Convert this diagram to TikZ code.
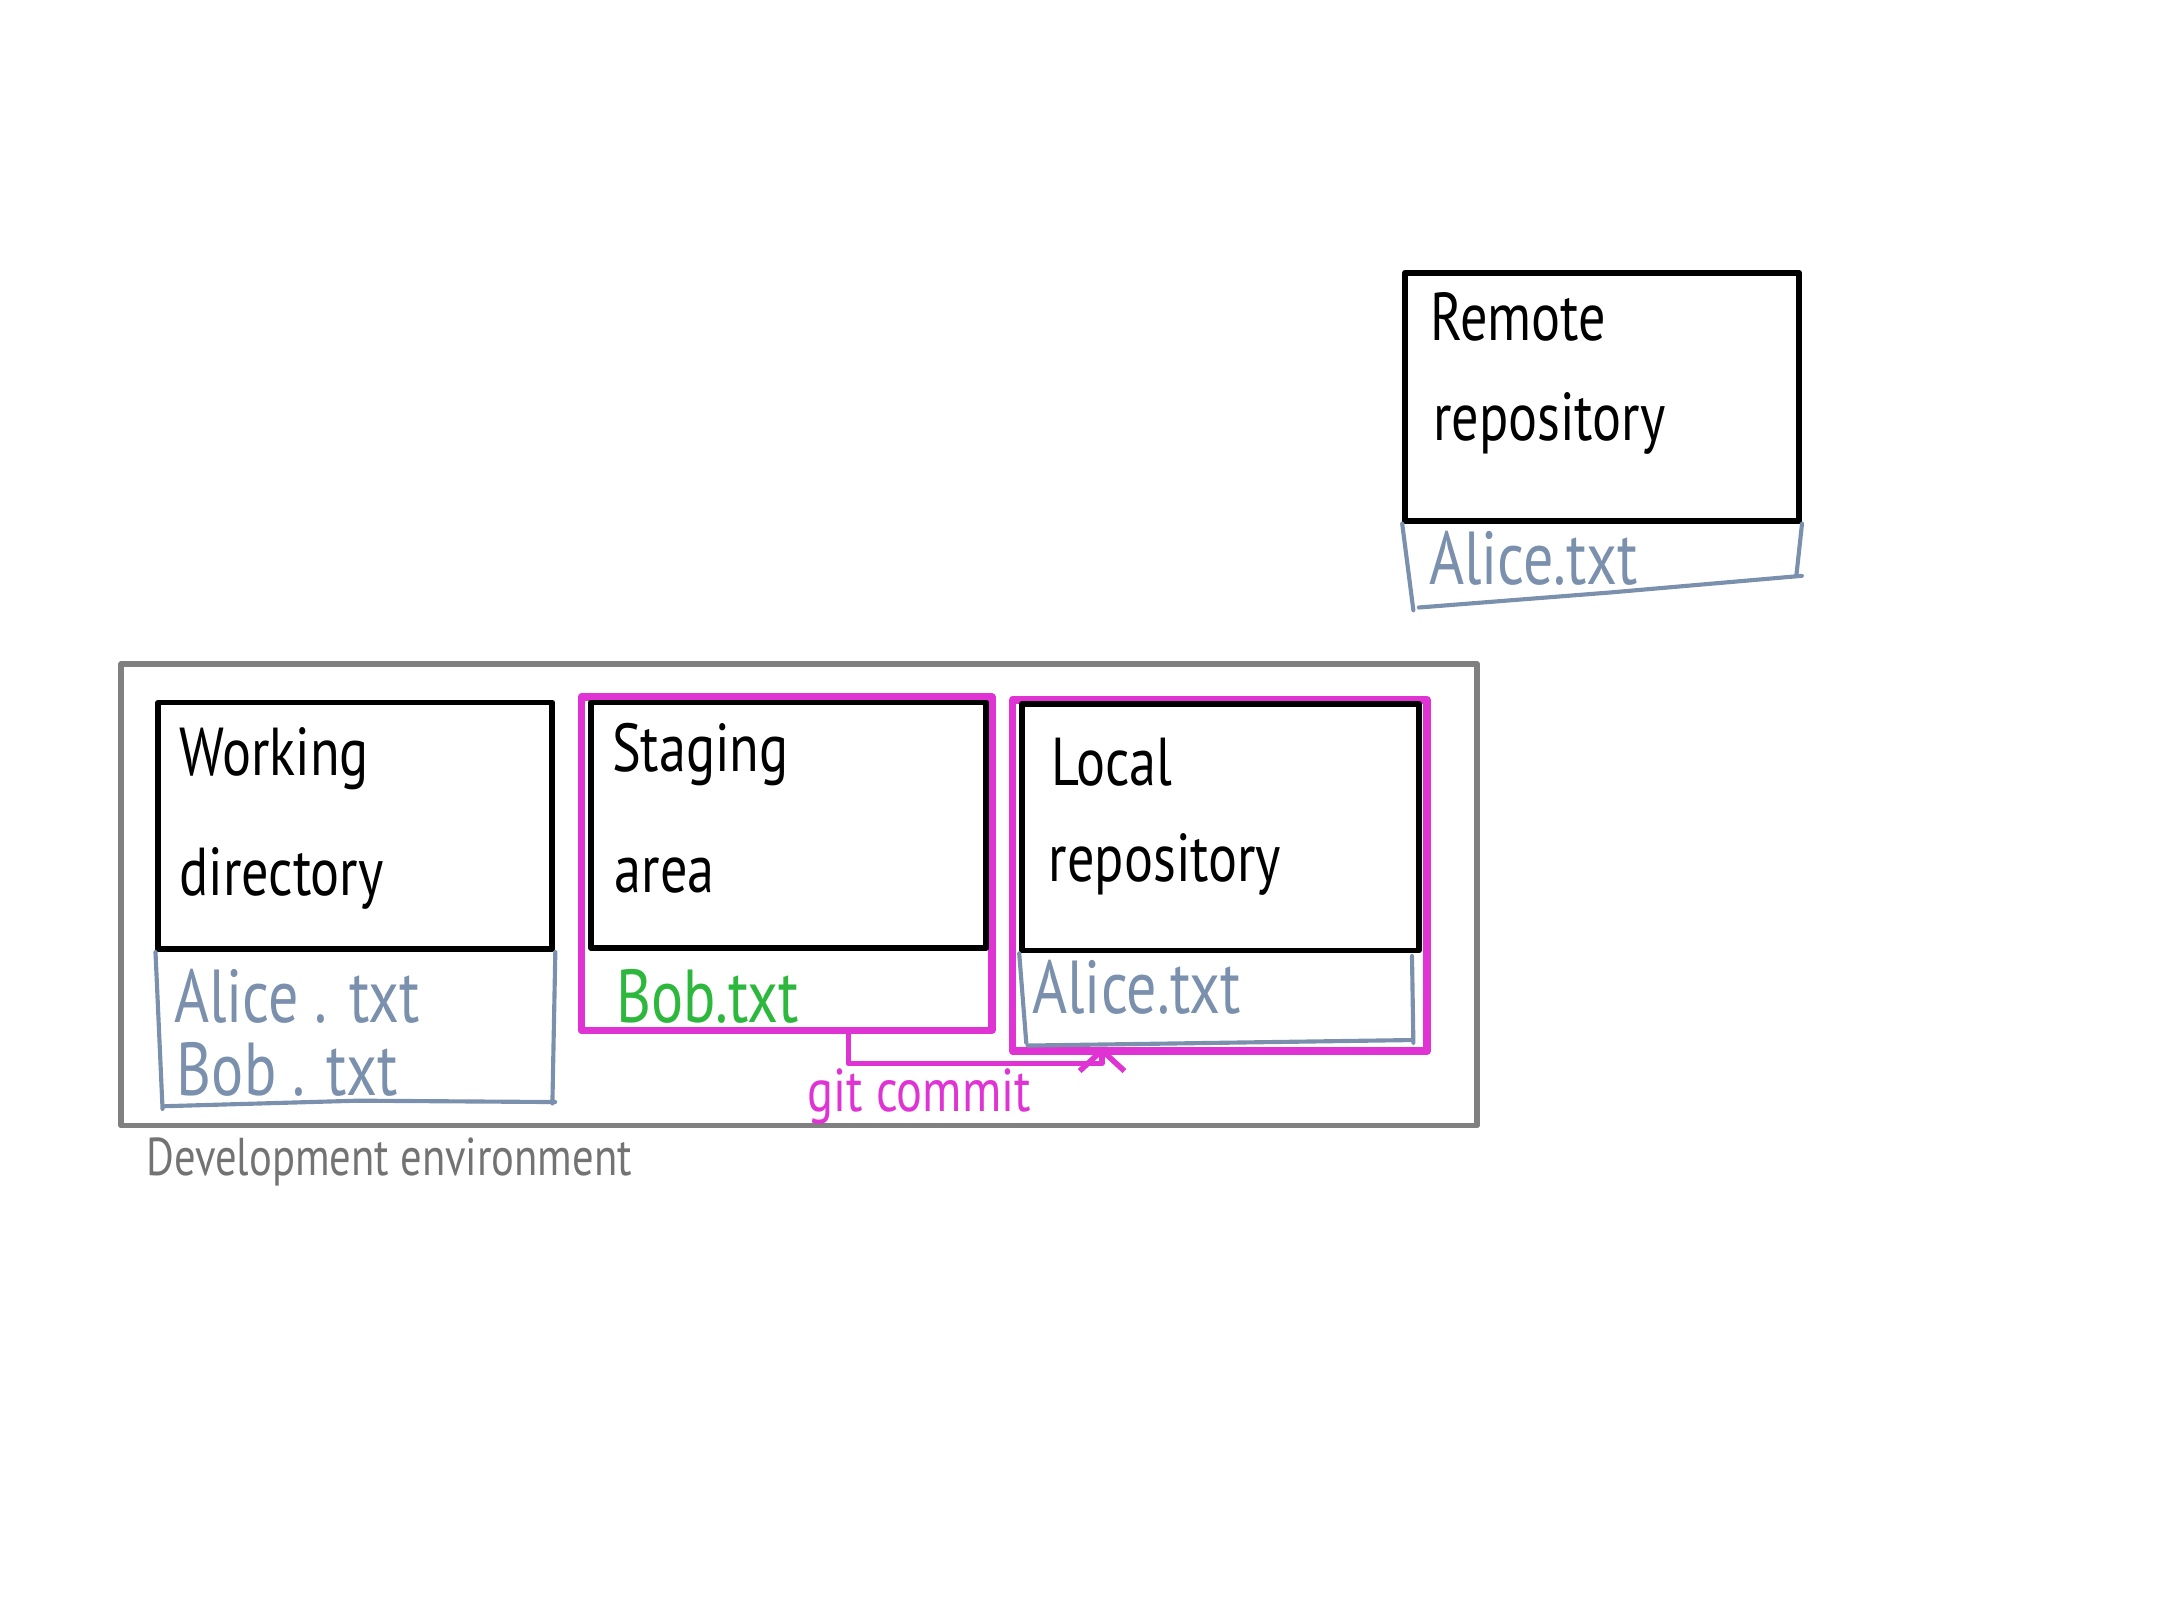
\documentclass[tikz,border=0pt]{standalone}
\usepackage{fontspec}
\newfontfamily\hand[FakeStretch=0.8]{PT Sans}
\usetikzlibrary{fit,arrows.meta}
\definecolor{fileblue}{RGB}{122,144,173}
\definecolor{filegreen}{RGB}{45,184,61}
\definecolor{mag}{RGB}{224,51,212}
\definecolor{envgray}{RGB}{128,128,128}
\definecolor{envtext}{RGB}{115,115,115}
\begin{document}
\begin{tikzpicture}[x=0.2mm,y=-0.2mm, line join=round, line cap=round,
  areabox/.style={draw=black, line width=0.85mm, inner sep=0pt},
  magbox/.style={draw=mag, line width=1.1mm, inner sep=0pt},
  envbox/.style={draw=envgray, line width=0.85mm, inner sep=0pt},
  bracket/.style={draw=fileblue, line width=0.6mm},
  title/.style={anchor=base west, inner sep=0pt, font=\hand\fontsize{28}{30}\selectfont},
  file/.style={anchor=base west, inner sep=0pt, text=fileblue, font=\hand\fontsize{31}{33}\selectfont},
  newfile/.style={file, text=filegreen},
  cmdlabel/.style={anchor=base west, inner sep=0pt, text=mag, font=\hand\fontsize{25}{27}\selectfont},
  envlabel/.style={anchor=base west, inner sep=0pt, text=envtext, font=\hand\fontsize{22}{24}\selectfont},
  commit/.style={draw=mag, line width=0.8mm, -{Straight Barb[length=3mm,width=6.5mm]}}
]
\useasboundingbox (0,0) rectangle (1568,1176);

% development environment
\node[envbox, fit={(88,482)(1072,817)}] (env) {};
\node[envlabel] (envtxt) at (106,853) {Development environment};

% remote repository
\node[areabox, fit={(1020,198)(1306,378)}] (remote) {};
\node[title] (remote1) at (1038,247) {Remote};
\node[title] (remote2) at (1040,320) {repository};
\draw[bracket] (remote.south west) -- (1026,443)
  (1030,441) -- (1170,430) -- (1308,418)
  (remote.south east) -- (1304,418);
\node[file] (remotefile) at (1037,424) {Alice.txt};

% working directory
\node[areabox, fit={(115,510)(401,689)}] (wd) {};
\node[title] (wd1) at (130,563) {Working};
\node[title] (wd2) at (130,650) {directory};
\draw[bracket] (wd.south west) -- (118,805)
  (120,803) -- (260,799) -- (403,800)
  (wd.south east) -- (401,801);
\node[file] (wdfile1) at (126,742) {Alice . txt};
\node[file] (wdfile2) at (128,795) {Bob . txt};

% staging area
\node[magbox, fit={(422,506)(720,748)}] (stagemag) {};
\node[areabox, fit={(429,510)(716,688)}] (stage) {};
\node[title] (stage1) at (444,560) {Staging};
\node[title] (stage2) at (446,648) {area};
\node[newfile] (stagefile) at (447,742) {Bob.txt};

% local repository
\node[magbox, fit={(735,508)(1036,763)}] (localmag) {};
\node[areabox, fit={(742,511)(1030,690)}] (local) {};
\node[title] (local1) at (763,570) {Local};
\node[title] (local2) at (761,640) {repository};
\draw[bracket] (local.south west) -- (745,757)
  (746,759) -- (1024,755)
  (1025,694) -- (1026,757);
\node[file] (localfile) at (749,736) {Alice.txt};

% git commit arrow
\coordinate (ca) at (616,772);
\coordinate (cb) at (800,772);
\draw[commit, shorten >=-1.2mm] (stagemag.south -| ca) -- (ca) -- (cb) -- (localmag.south -| cb);
\node[cmdlabel] (committxt) at (586,807) {git commit};
\end{tikzpicture}
\end{document}
